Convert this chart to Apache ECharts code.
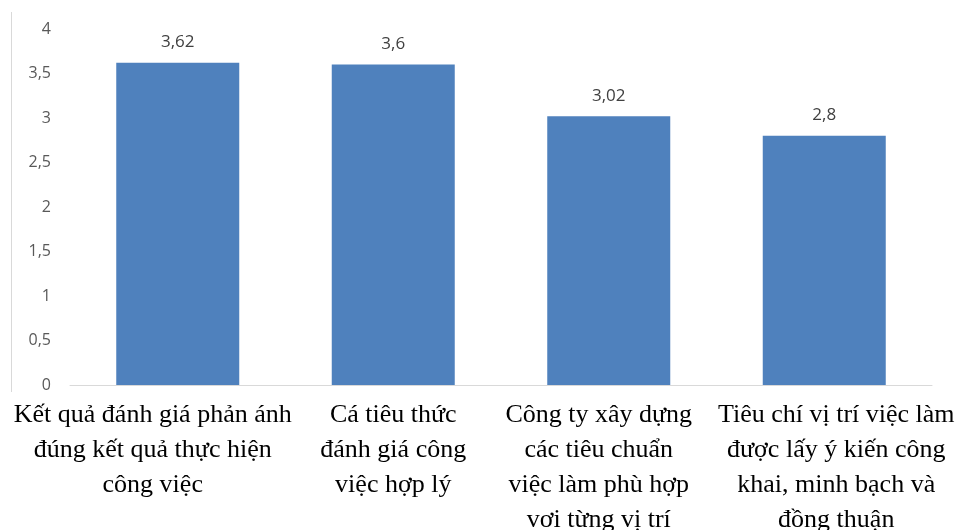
<!DOCTYPE html>
<html>
<head>
<meta charset="utf-8">
<script src="https://cdn.jsdelivr.net/npm/echarts@6/dist/echarts.min.js"></script>
<style>
  html, body { margin: 0; padding: 0; background: #ffffff; }
  #chart { width: 955px; height: 530px; }
</style>
</head>
<body>
<div id="chart"></div>
<script>
// Criteria (wrapped onto lines) and their mean scores
const categories = [
  'Kết quả đánh giá phản ánh\nđúng kết quả thực hiện\ncông việc',
  'Cá tiêu thức\nđánh giá công\nviệc hợp lý',
  'Công ty xây dựng\ncác tiêu chuẩn\nviệc làm phù hợp\nvơi từng vị trí',
  'Tiêu chí vị trí việc làm\nđược lấy ý kiến công\nkhai, minh bạch và\nđồng thuận'
];
const scores = [3.62, 3.6, 3.02, 2.8];
const yTicks = { min: 0, max: 4, interval: 0.5 };

// horizontal nudge (px) of each category caption relative to its bar centre
const labelShift = [-25, 0, -10, 12];

const fmt = v => String(v).replace('.', ',');

const categoryItems = categories.map((name, i) => {
  const s = labelShift[i];
  return {
    value: name,
    textStyle: { padding: [0, s < 0 ? -2 * s : 0, 0, s > 0 ? 2 * s : 0] }
  };
});

const chart = echarts.init(document.getElementById('chart'), null, { renderer: 'canvas' });
chart.setOption({
  animation: false,
  backgroundColor: '#ffffff',
  grid: { left: 70, right: 23, top: 29, bottom: 145, containLabel: false, outerBoundsMode: 'none' },
  graphic: [{
    type: 'line',
    shape: { x1: 11.5, y1: 12, x2: 11.5, y2: 392 },
    style: { stroke: '#d9d9d9', lineWidth: 1 }
  }],
  xAxis: {
    type: 'category',
    data: categoryItems,
    axisLine: { show: true, lineStyle: { color: '#d9d9d9', width: 1 } },
    axisTick: { show: false },
    axisLabel: {
      interval: 0,
      hideOverlap: false,
      margin: 13,
      color: '#000000',
      fontFamily: '"Liberation Serif", "Times New Roman", serif',
      fontSize: 26,
      lineHeight: 35,
      align: 'center'
    }
  },
  yAxis: {
    type: 'value',
    min: yTicks.min,
    max: yTicks.max,
    interval: yTicks.interval,
    axisLine: { show: false },
    axisTick: { show: false },
    splitLine: { show: false },
    axisLabel: {
      margin: 19,
      color: '#595959',
      fontFamily: '"Open Sans", "Liberation Sans", sans-serif',
      fontSize: 16,
      formatter: v => fmt(v)
    }
  },
  series: [{
    type: 'bar',
    data: scores,
    barWidth: 123,
    itemStyle: { color: '#4f81bd' },
    label: {
      show: true,
      position: 'top',
      distance: 12,
      color: '#404040',
      fontFamily: '"Open Sans", "Liberation Sans", sans-serif',
      fontSize: 17,
      formatter: p => fmt(p.value)
    }
  }]
});
</script>
</body>
</html>
